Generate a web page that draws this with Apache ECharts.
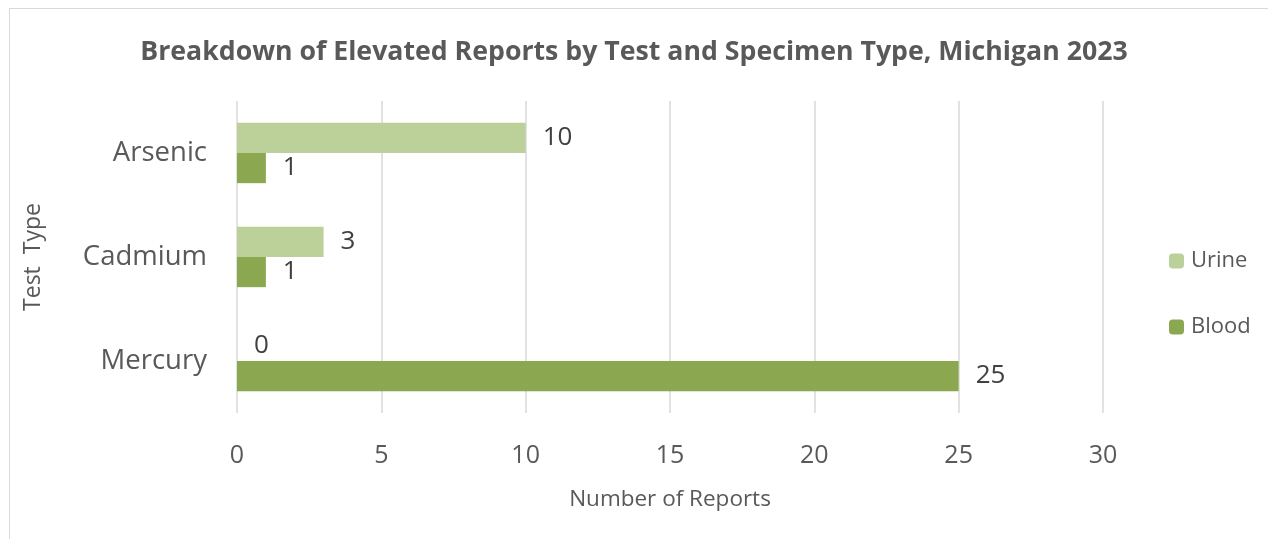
<!DOCTYPE html>
<html>
<head>
<meta charset="utf-8">
<script src="https://cdn.jsdelivr.net/npm/echarts@6/dist/echarts.min.js"></script>
<style>
  html, body { margin: 0; padding: 0; background: #fff; }
  #frame { position: absolute; left: 9px; top: 8px; right: -2px; bottom: -2px; border: 1px solid #d9d9d9; }
  #chart { position: absolute; left: 0; top: 0; width: 1268px; height: 539px; }
</style>
</head>
<body>
<div id="frame"></div>
<div id="chart"></div>
<script>
var categories = ["Arsenic", "Cadmium", "Mercury"];
var urine = [10, 3, 0];
var blood = [1, 1, 25];
var xTicks = [0, 5, 10, 15, 20, 25, 30];

var myChart = echarts.init(document.getElementById("chart"));
var font = "'Open Sans', 'Noto Sans', sans-serif";

var option = {
  animation: false,
  title: {
    text: "Breakdown of Elevated Reports by Test and Specimen Type, Michigan 2023",
    left: "center",
    top: 34,
    textStyle: { fontFamily: font, fontSize: 26.7, fontWeight: "bold", color: "#595959" }
  },
  legend: {
    orient: "vertical",
    left: 1164,
    top: 245,
    itemWidth: 15,
    itemHeight: 15,
    itemGap: 44,
    data: ["Urine", "Blood"],
    textStyle: { fontFamily: font, fontSize: 22, color: "#595959", padding: [0, 0, 0, 2] }
  },
  grid: { left: 237, right: 165, top: 101, bottom: 126, containLabel: false },
  xAxis: {
    type: "value",
    min: xTicks[0],
    max: xTicks[xTicks.length - 1],
    interval: 5,
    name: "Number of Reports",
    nameLocation: "middle",
    nameGap: 75,
    nameTextStyle: { fontFamily: font, fontSize: 22.5, color: "#595959" },
    axisLine: { show: false },
    axisTick: { show: false },
    axisLabel: { fontFamily: font, fontSize: 25, color: "#595959", margin: 30 },
    splitLine: { lineStyle: { color: "#d9d9d9", width: 1.5 } }
  },
  yAxis: {
    type: "category",
    inverse: true,
    data: categories,
    name: "Test  Type",
    nameLocation: "middle",
    nameGap: 192,
    nameRotate: 90,
    nameTextStyle: { fontFamily: font, fontSize: 23, color: "#595959" },
    axisLine: { show: false },
    axisTick: { show: false },
    axisLabel: { fontFamily: font, fontSize: 27.5, color: "#595959", margin: 30 }
  },
  series: [
    {
      name: "Urine",
      type: "bar",
      data: urine,
      barGap: "0%",
      barCategoryGap: "42%",
      itemStyle: { color: "#bcd09a" },
      label: { show: true, position: "right", distance: 17, fontFamily: font, fontSize: 26, color: "#404040" }
    },
    {
      name: "Blood",
      type: "bar",
      data: blood,
      itemStyle: { color: "#8ba74f" },
      label: { show: true, position: "right", distance: 17, fontFamily: font, fontSize: 26, color: "#404040" }
    }
  ]
};

myChart.setOption(option);
</script>
</body>
</html>
